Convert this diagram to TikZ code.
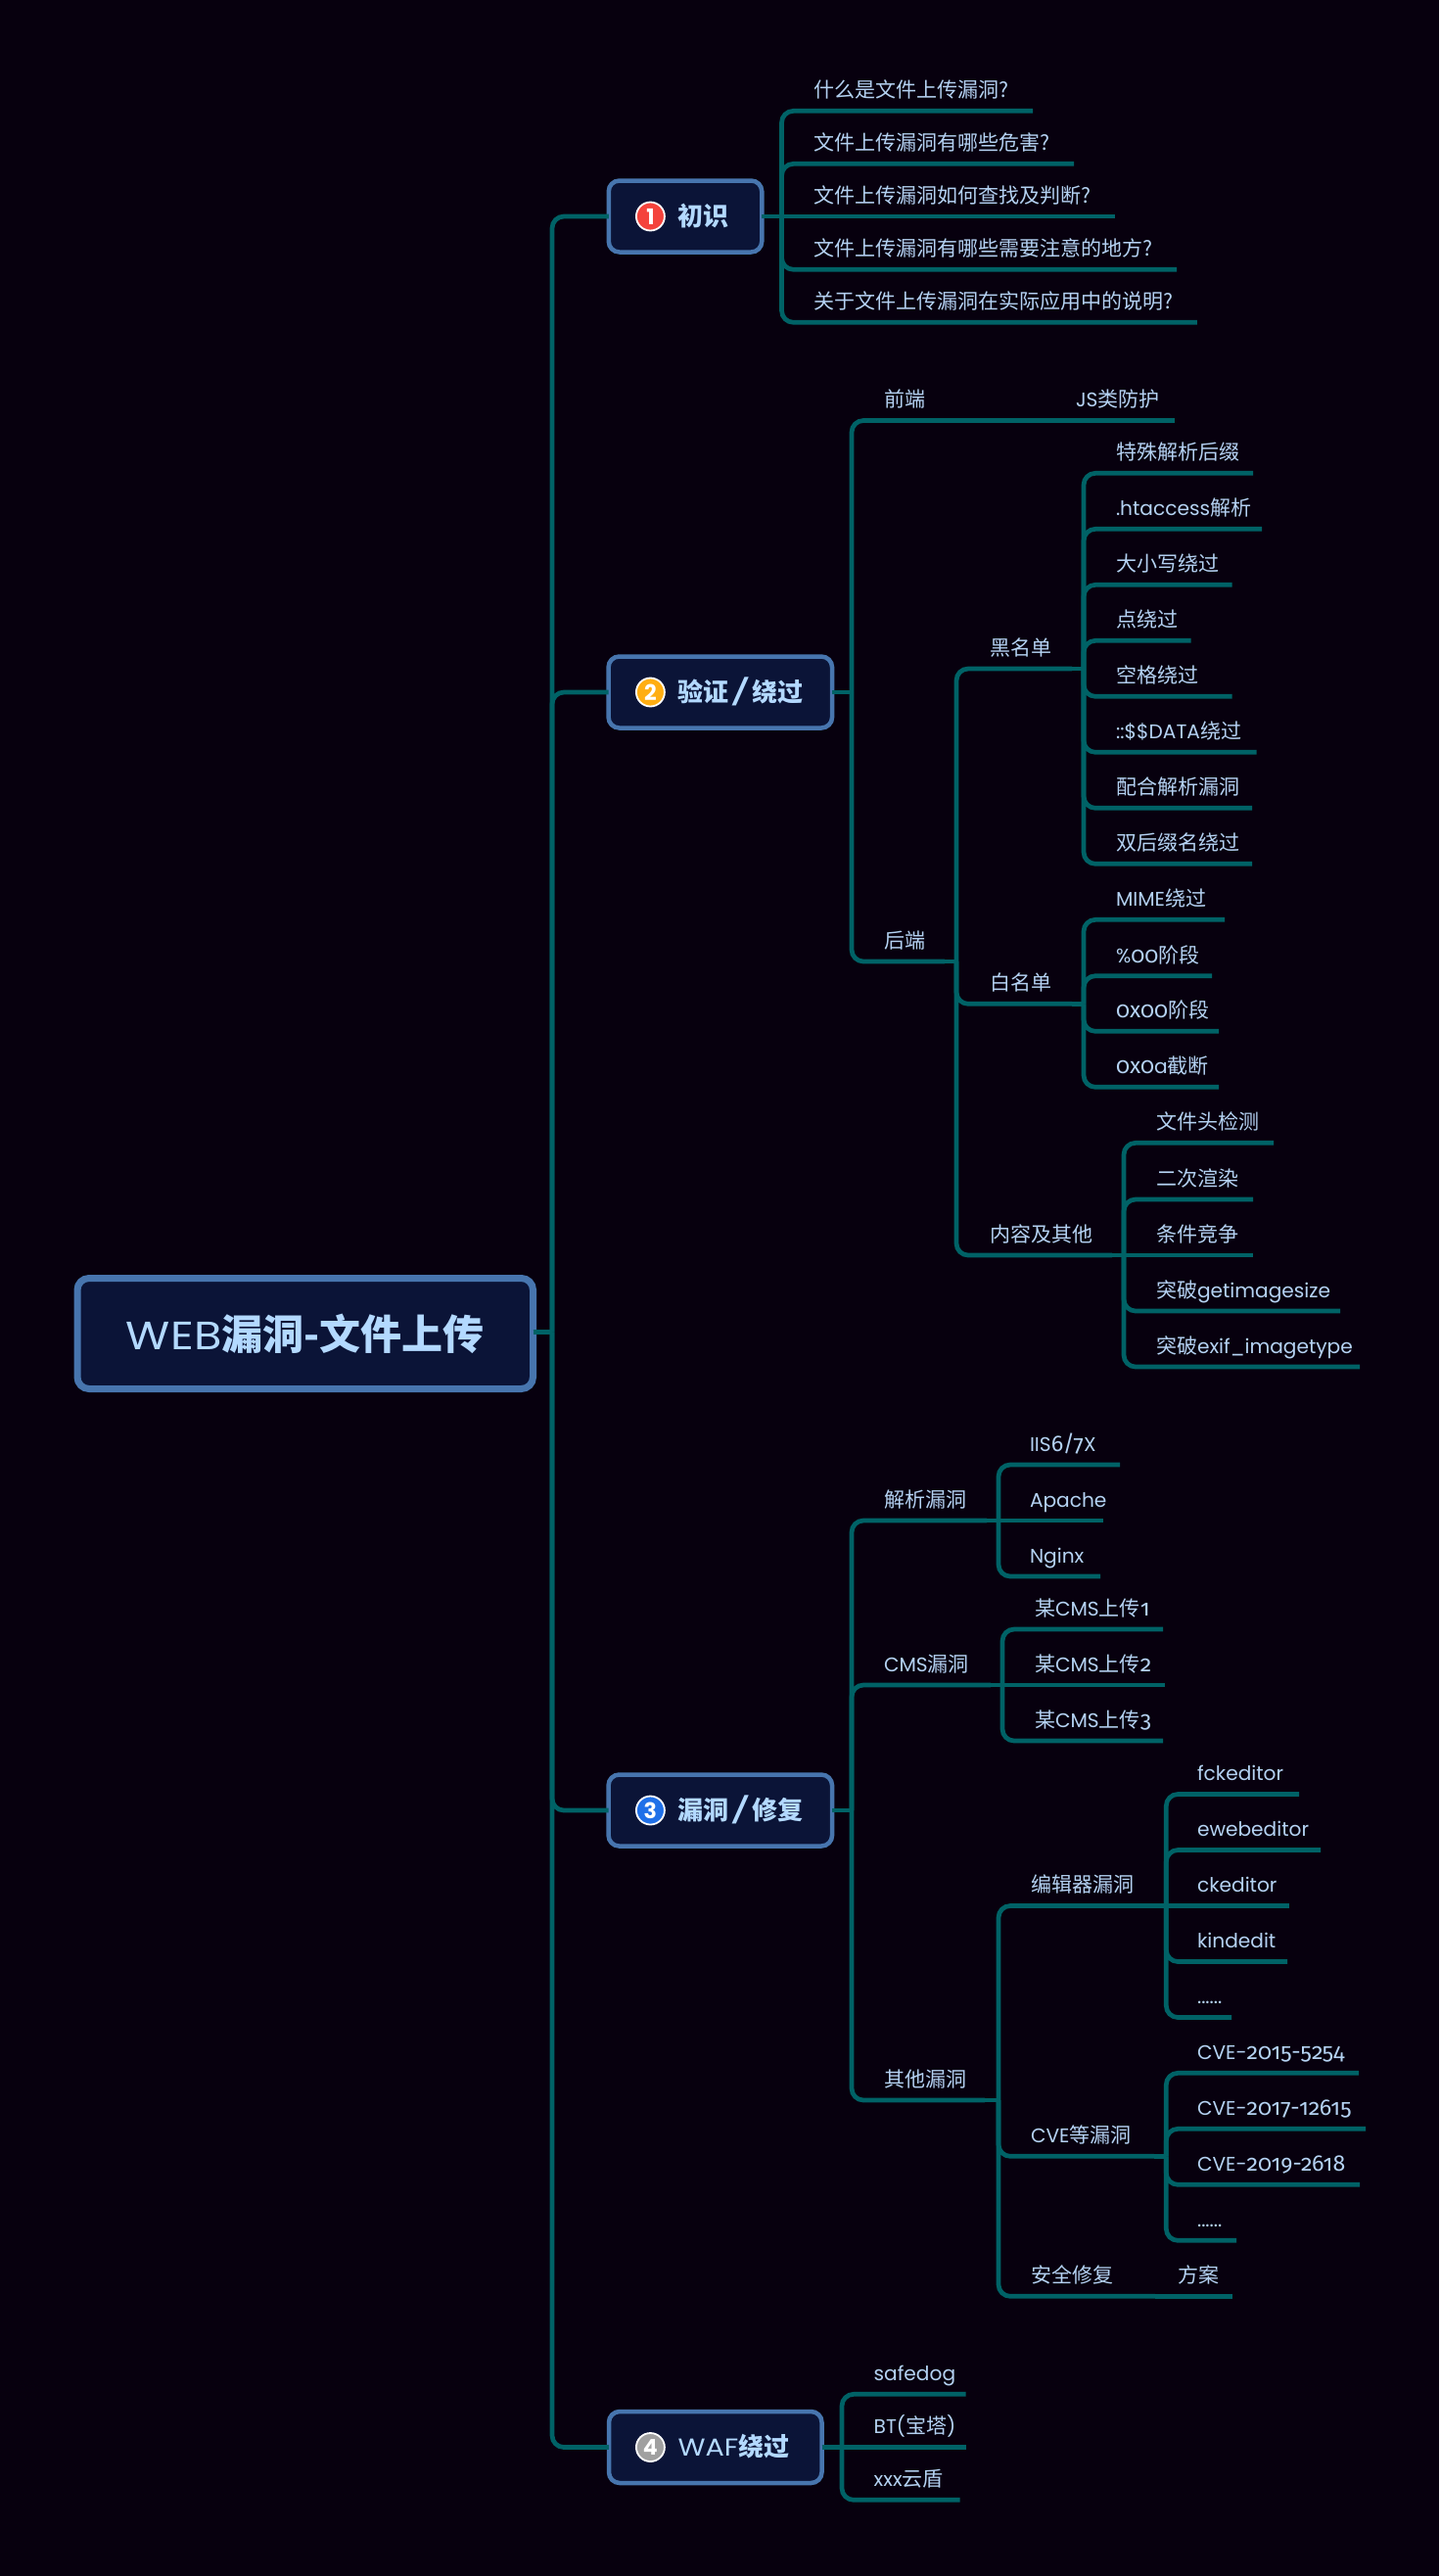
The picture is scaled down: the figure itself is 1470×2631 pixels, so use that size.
\documentclass[tikz,border=0pt]{standalone}
\usepackage{fontspec}
\setmainfont[Scale=0.96]{Poppins}
\newfontfamily\cjk{Noto Sans CJK SC}
\newfontfamily\digs[Numbers=OldStyle,Scale=1.1]{Fira Sans}
\newcommand{\zh}[1]{{\cjk #1}}
\newcommand{\zb}[1]{{\cjk\bfseries #1}}
\newcommand{\od}[1]{{\digs #1}}
\definecolor{bgc}{HTML}{07000E}
\definecolor{linec}{HTML}{006266}
\definecolor{boxf}{HTML}{0B1437}
\definecolor{boxb}{HTML}{4775AE}
\definecolor{leaft}{HTML}{B4D2F2}
\definecolor{headt}{HTML}{B3D9FF}
\definecolor{bred}{HTML}{F4433C}
\definecolor{borange}{HTML}{FFAE12}
\definecolor{bblue}{HTML}{2070E8}
\definecolor{bgrey}{HTML}{A0A0A0}
\tikzset{
  conn/.style={draw=linec,line width=4.7pt,rounded corners=12pt},
  stem/.style={draw=linec,line width=4.7pt},
  lbl/.style={anchor=base west,inner sep=0pt,outer sep=0pt,text=leaft,font=\fontsize{21pt}{25pt}\selectfont},
  secbox/.style={draw=boxb,fill=boxf,line width=4.5pt,rounded corners=11pt,inner sep=0pt,outer sep=0pt,minimum height=73pt},
  rootbox/.style={draw=boxb,fill=boxf,line width=7pt,rounded corners=12pt,inner sep=0pt,outer sep=0pt,minimum width=465.5pt,minimum height=113pt,text=headt,font=\fontsize{42pt}{50pt}\selectfont},
  sectxt/.style={anchor=base west,inner sep=0pt,outer sep=0pt,text=headt,font=\fontsize{26pt}{30pt}\selectfont},
  badge/.style={circle,draw=white,line width=1.8pt,minimum size=29pt,inner sep=0pt,text=white,font=\fontsize{23pt}{24pt}\selectfont\bfseries}
}
\newcommand{\leafbase}[5]{%
  \coordinate (#1-b) at (#2,#3);
  \coordinate (#1-e) at (#4,#3);
  \node[lbl] (#1) at (#5,{#3-13.6}) }
% name, parent, bracket x, line y, end x, text x, text : branch that bends at the bracket
\newcommand{\leaf}[7]{%
  \leafbase{#1}{#3}{#4}{#5}{#6}{#7};
  \draw[stem] (#2) -- (#2 -| #1-b);
  \draw[conn] (#2 -| #1-b) -- (#1-b) -- (#1-e);
}
% same, for the branch that runs straight on from its parent
\newcommand{\cleaf}[7]{%
  \leafbase{#1}{#3}{#4}{#5}{#6}{#7};
  \draw[stem] (#2) -- (#1-e);
}
% name, center x, y, width, badge colour, digit, text
\newcommand{\sect}[7]{%
  \node[secbox,minimum width={#4-4.5pt}] (#1) at (#2,#3) {};
  \node[badge,fill=#5] (#1-i) at (664.4,#3) {#6};
  \node[sectxt] (#1-t) at (692.5,{#3+9}) {#7};
  \coordinate (#1-b) at (564,#3);
  \draw[stem] (rootout) -- (rootout -| #1-b);
  \draw[conn] (rootout -| #1-b) -- (#1-b) -- (#1.west);
}
\newcommand{\wideslash}{\kern0.5pt\scalebox{1.9}[1.05]{/}\kern0.5pt}
\begin{document}
\begin{tikzpicture}[x=1pt,y=-1pt]
\useasboundingbox[fill=bgc] (0,0) rectangle (1470,2631);
\node[rootbox] (root) at (311.75,1362) {\scalebox{1.15}[1]{WEB}\zb{漏洞-文件上传}};
\coordinate (rootout) at (root.east |- 0,1360.5);
\sect{s1}{700}{221}{161pt}{bred}{1}{\zb{初识}}
\sect{s2}{735.8}{707}{233pt}{borange}{2}{\zb{验证}\wideslash\zb{绕过}}
\sect{s3}{735.8}{1849}{233pt}{bblue}{3}{\zb{漏洞}\wideslash\zb{修复}}
\sect{s4}{730.75}{2499.5}{222pt}{bgrey}{4}{\scalebox{1.15}[1]{WAF}\zb{绕过}}
% section 1
\leaf{a1}{s1.east}{798.5}{113.3}{1055}{831}{\zh{什么是文件上传漏洞?}}
\leaf{a2}{s1.east}{798.5}{167.3}{1097}{831}{\zh{文件上传漏洞有哪些危害?}}
\cleaf{a3}{s1.east}{798.5}{221}{1138.6}{831}{\zh{文件上传漏洞如何查找及判断?}}
\leaf{a4}{s1.east}{798.5}{275.3}{1202}{831}{\zh{文件上传漏洞有哪些需要注意的地方?}}
\leaf{a5}{s1.east}{798.5}{329.3}{1222.8}{831}{\zh{关于文件上传漏洞在实际应用中的说明?}}
% section 2
\leaf{b1}{s2.east}{870}{429.5}{1070}{903}{\zh{前端}}
\cleaf{b1a}{b1-e}{1085}{429.5}{1200}{1099}{JS\zh{类防护}}
\leaf{b2}{s2.east}{870}{982}{965}{903}{\zh{后端}}
\leaf{c1}{b2-e}{977}{683}{1095}{1011}{\zh{黑名单}}
\leaf{c2}{b2-e}{977}{1025.3}{1095}{1011}{\zh{白名单}}
\leaf{c3}{b2-e}{977}{1282}{1136}{1011}{\zh{内容及其他}}
\leaf{d1}{c1-e}{1107}{483.3}{1280}{1140}{\zh{特殊解析后缀}}
\leaf{d2}{c1-e}{1107}{540.3}{1289}{1140}{.htaccess\zh{解析}}
\leaf{d3}{c1-e}{1107}{597.3}{1258.7}{1140}{\zh{大小写绕过}}
\leaf{d4}{c1-e}{1107}{654.3}{1216.7}{1140}{\zh{点绕过}}
\leaf{d5}{c1-e}{1107}{711.3}{1258.5}{1140}{\zh{空格绕过}}
\leaf{d6}{c1-e}{1107}{768.3}{1283.7}{1140}{::\$\$DATA\zh{绕过}}
\leaf{d7}{c1-e}{1107}{825.3}{1279}{1140}{\zh{配合解析漏洞}}
\leaf{d8}{c1-e}{1107}{882.3}{1279}{1140}{\zh{双后缀名绕过}}
\leaf{e1}{c2-e}{1107}{939.3}{1251}{1140}{MIME\zh{绕过}}
\leaf{e2}{c2-e}{1107}{996.7}{1238}{1140}{\%\od{00}\zh{阶段}}
\leaf{e3}{c2-e}{1107}{1053.3}{1245}{1140}{\od{0x00}\zh{阶段}}
\leaf{e4}{c2-e}{1107}{1110.3}{1245}{1140}{\od{0x0}a\zh{截断}}
\leaf{f1}{c3-e}{1148}{1167.3}{1301}{1181}{\zh{文件头检测}}
\leaf{f2}{c3-e}{1148}{1225}{1280}{1181}{\zh{二次渲染}}
\cleaf{f3}{c3-e}{1148}{1282}{1280}{1181}{\zh{条件竞争}}
\leaf{f4}{c3-e}{1148}{1339}{1369}{1181}{\zh{突破}getimagesize}
\leaf{f5}{c3-e}{1148}{1396}{1389}{1181}{\zh{突破}exif\_imagetype}
% section 3
\leaf{g1}{s3.east}{870}{1553}{1008}{903}{\zh{解析漏洞}}
\leaf{g2}{s3.east}{870}{1721}{1012}{903}{CMS\zh{漏洞}}
\leaf{g3}{s3.east}{870}{2145}{1006}{903}{\zh{其他漏洞}}
\leaf{h1}{g1-e}{1020}{1496}{1144}{1052}{IIS\od{6/7}X}
\cleaf{h2}{g1-e}{1020}{1553}{1127}{1052}{Apache}
\leaf{h3}{g1-e}{1020}{1610}{1124}{1052}{Nginx}
\leaf{i1}{g2-e}{1024}{1664}{1188}{1057}{\zh{某}CMS\zh{上传}\od{1}}
\cleaf{i2}{g2-e}{1024}{1721}{1190}{1057}{\zh{某}CMS\zh{上传}\od{2}}
\leaf{i3}{g2-e}{1024}{1778}{1188}{1057}{\zh{某}CMS\zh{上传}\od{3}}
\leaf{j1}{g3-e}{1020}{1946.5}{1179}{1053}{\zh{编辑器漏洞}}
\leaf{j2}{g3-e}{1020}{2202.3}{1179}{1053}{CVE\zh{等漏洞}}
\leaf{j3}{g3-e}{1020}{2345.3}{1180}{1053}{\zh{安全修复}}
\cleaf{j3a}{j3-e}{1190}{2345.3}{1259}{1203}{\zh{方案}}
\leaf{k1}{j1-e}{1191.3}{1832.5}{1327}{1223}{fckeditor}
\leaf{k2}{j1-e}{1191.3}{1889.5}{1349}{1223}{ewebeditor}
\cleaf{k3}{j1-e}{1191.3}{1946.5}{1317}{1223}{ckeditor}
\leaf{k4}{j1-e}{1191.3}{2003.5}{1315}{1223}{kindedit}
\leaf{k5}{j1-e}{1191.3}{2060.5}{1258}{1223}{......}
\leaf{m1}{j2-e}{1191.3}{2117.3}{1388}{1223}{CVE-\od{2015-5254}}
\leaf{m2}{j2-e}{1191.3}{2174.3}{1395}{1223}{CVE-\od{2017-12615}}
\leaf{m3}{j2-e}{1191.3}{2231.3}{1389}{1223}{CVE-\od{2019-2618}}
\leaf{m4}{j2-e}{1191.3}{2288.3}{1263}{1223}{......}
% section 4
\leaf{n1}{s4.east}{860}{2445.3}{986.7}{892.7}{safedog}
\cleaf{n2}{s4.east}{860}{2499.5}{986.7}{892.7}{BT(\zh{宝塔})}
\leaf{n3}{s4.east}{860}{2553.3}{980.7}{892.7}{xxx\zh{云盾}}
\end{tikzpicture}
\end{document}
